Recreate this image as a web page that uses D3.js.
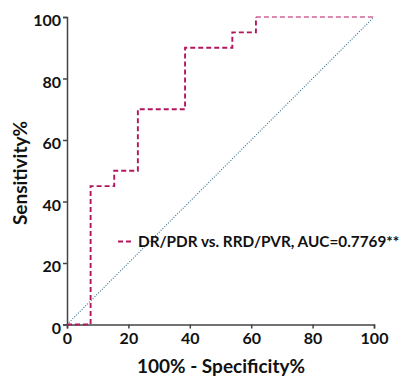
<!DOCTYPE html>
<html>
<head>
<meta charset="utf-8">
<script src="https://cdn.jsdelivr.net/npm/d3@7"></script>
<style>
  html, body { margin: 0; padding: 0; background: #fff; }
  svg { display: block; }
  text { font-family: Lato, "Open Sans", sans-serif; font-weight: bold; fill: #111; }
</style>
</head>
<body>
<svg id="chart" width="403" height="383"></svg>
<script>
// ROC curve: 100% - specificity (x) vs sensitivity (y)
const fpr = [0, 7.69, 7.69, 15.38, 15.38, 23.08, 23.08, 38.46, 38.46, 53.85, 53.85, 61.54, 61.54, 100];
const tpr = [0, 0, 45, 45, 50, 50, 70, 70, 90, 90, 95, 95, 100, 100];
const xTicks = [0, 20, 40, 60, 80, 100];
const yTicks = [0, 20, 40, 60, 80, 100];
const legendLabel = "DR/PDR vs. RRD/PVR, AUC=0.7769**";
const xTitle = "100% - Specificity%";
const yTitle = "Sensitivity%";

const svg = d3.select("#chart");
const plotL = 67, plotR = 374, plotT = 17, plotB = 324.5;

const x = d3.scaleLinear().domain([0, 100]).range([plotL, plotR]);
const y = d3.scaleLinear().domain([0, 100]).range([plotB, plotT]);

const axisColor = "#444";
const rocColor = "#b3165d";

// x axis
const gx = svg.append("g").attr("transform", `translate(0,${plotB})`)
  .call(d3.axisBottom(x).tickValues(xTicks).tickSize(4).tickPadding(4).tickFormat(d3.format("d")));
gx.select(".domain").attr("stroke", axisColor).attr("stroke-width", 1.5);
gx.selectAll(".tick line").attr("stroke", axisColor).attr("stroke-width", 1.5);
gx.selectAll(".tick text").attr("font-size", 16).attr("font-family", "Lato, sans-serif").attr("font-weight", "bold").attr("fill", "#111");

// y axis
const gy = svg.append("g").attr("transform", `translate(${plotL},0)`)
  .call(d3.axisLeft(y).tickValues(yTicks).tickSize(4).tickPadding(2).tickFormat(d3.format("d")));
gy.select(".domain").attr("stroke", axisColor).attr("stroke-width", 1.5);
gy.selectAll(".tick line").attr("stroke", axisColor).attr("stroke-width", 1.5);
gy.selectAll(".tick text").attr("font-size", 16).attr("dy", "0.55em")
  .attr("font-family", "Lato, sans-serif").attr("font-weight", "bold").attr("fill", "#111");

// reference diagonal
svg.append("line")
  .attr("x1", x(0)).attr("y1", y(0)).attr("x2", x(100)).attr("y2", y(100))
  .attr("stroke", "#2f6f88").attr("stroke-width", 1.1).attr("stroke-dasharray", "1,1.6");

// ROC step line; the closing run along the top edge is drawn fainter
const pts = fpr.map((d, i) => [d, tpr[i]]);
const line = d3.line().x(d => x(d[0])).y(d => y(d[1]));
const n = pts.length;
svg.append("path")
  .datum(pts.slice(0, n - 1))
  .attr("fill", "none")
  .attr("stroke", rocColor)
  .attr("stroke-width", 1.9)
  .attr("stroke-dasharray", "5,3")
  .attr("d", line);
svg.append("path")
  .datum(pts.slice(n - 2))
  .attr("fill", "none")
  .attr("stroke", rocColor)
  .attr("stroke-opacity", 0.5)
  .attr("stroke-width", 1.9)
  .attr("stroke-dasharray", "5,3")
  .attr("d", line);

// legend
svg.append("line")
  .attr("x1", 118).attr("x2", 134).attr("y1", 241.5).attr("y2", 241.5)
  .attr("stroke", rocColor).attr("stroke-width", 1.9).attr("stroke-dasharray", "5,3");
svg.append("text")
  .attr("x", 138).attr("y", 246.5)
  .attr("font-size", 15.3)
  .text(legendLabel);

// axis titles
svg.append("text")
  .attr("x", 221).attr("y", 373)
  .attr("text-anchor", "middle")
  .attr("font-size", 19)
  .text(xTitle);
svg.append("text")
  .attr("transform", `translate(27,173) rotate(-90)`)
  .attr("text-anchor", "middle")
  .attr("font-size", 19)
  .text(yTitle);
</script>
</body>
</html>
